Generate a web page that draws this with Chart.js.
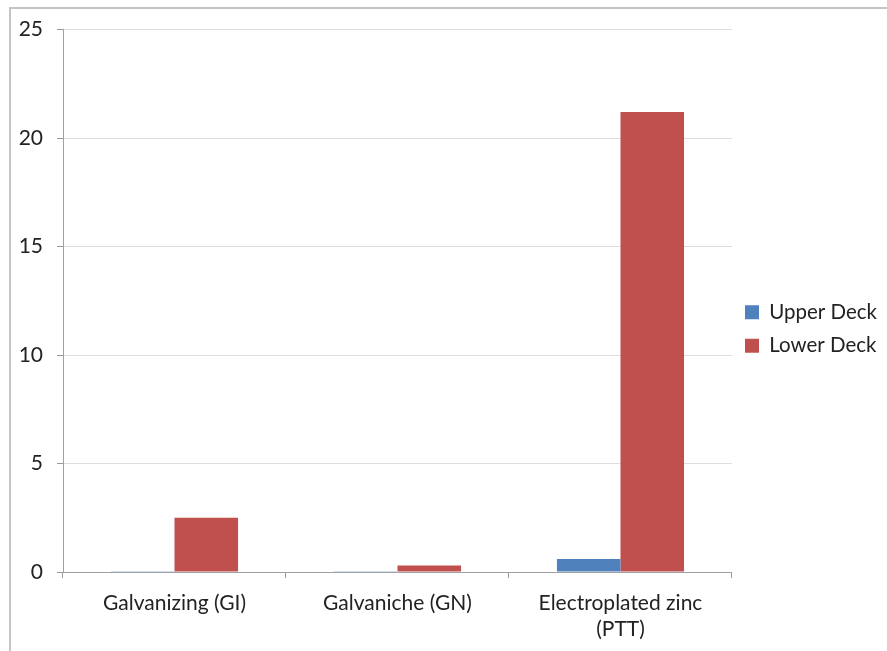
<!DOCTYPE html>
<html>
<head>
<meta charset="utf-8">
<script src="https://cdn.jsdelivr.net/npm/chart.js@4.4.0/dist/chart.umd.min.js"></script>
<style>
  html, body { margin: 0; padding: 0; background: #fff; overflow: hidden; }
  .frame {
    position: absolute; left: 9px; top: 7px; width: 900px; height: 700px;
    border-left: 2px solid #c4c4c4; border-top: 2px solid #c4c4c4;
  }
  .chart-box { position: absolute; left: 10px; top: 3px; width: 877px; height: 648px; }
</style>
</head>
<body>
<div class="frame"></div>
<div class="chart-box"><canvas id="deckChart"></canvas></div>
<script>
const categories = ["Galvanizing (GI)", "Galvaniche (GN)", ["Electroplated zinc", "(PTT)"]];
const upperDeck = [0.03, 0.03, 0.6];
const lowerDeck = [2.5, 0.3, 21.2];
const yTicks = [0, 5, 10, 15, 20, 25];

const fontFamily = "Lato, 'Open Sans', sans-serif";

const ctx = document.getElementById("deckChart").getContext("2d");

new Chart(ctx, {
  type: "bar",
  data: {
    labels: categories,
    datasets: [
      {
        label: "Upper Deck",
        data: upperDeck,
        backgroundColor: "#4f81bd",
        categoryPercentage: 0.57,
        barPercentage: 1,
      },
      {
        label: "Lower Deck",
        data: lowerDeck,
        backgroundColor: "#c0504d",
        categoryPercentage: 0.57,
        barPercentage: 1,
      },
    ],
  },
  options: {
    responsive: true,
    maintainAspectRatio: false,
    animation: false,
    layout: {
      padding: { top: 4, right: 0, left: 0, bottom: 0 },
    },
    plugins: {
      legend: {
        position: "right",
        labels: {
          boxWidth: 14,
          boxHeight: 14,
          padding: 13,
          color: "#222",
          font: { family: fontFamily, size: 20.5 },
        },
      },
      tooltip: { enabled: false },
    },
    scales: {
      y: {
        min: 0,
        max: 25,
        afterBuildTicks: (scale) => {
          scale.ticks = yTicks.map((v) => ({ value: v }));
        },
        afterFit: (scale) => {
          scale.width = 53;
        },
        ticks: {
          padding: 14,
          color: "#222",
          font: { family: fontFamily, size: 21 },
        },
        grid: {
          color: "#dedede",
          tickColor: "#999",
          tickLength: 6,
        },
        border: { color: "#a0a0a0" },
      },
      x: {
        afterFit: (scale) => {
          scale.height = 79;
        },
        ticks: {
          padding: 13,
          color: "#222",
          maxRotation: 0,
          font: { family: fontFamily, size: 21 },
        },
        grid: {
          offset: true,
          drawOnChartArea: false,
          tickColor: "#999",
          tickLength: 6,
        },
        border: { color: "#a0a0a0" },
      },
    },
  },
});
</script>
</body>
</html>
